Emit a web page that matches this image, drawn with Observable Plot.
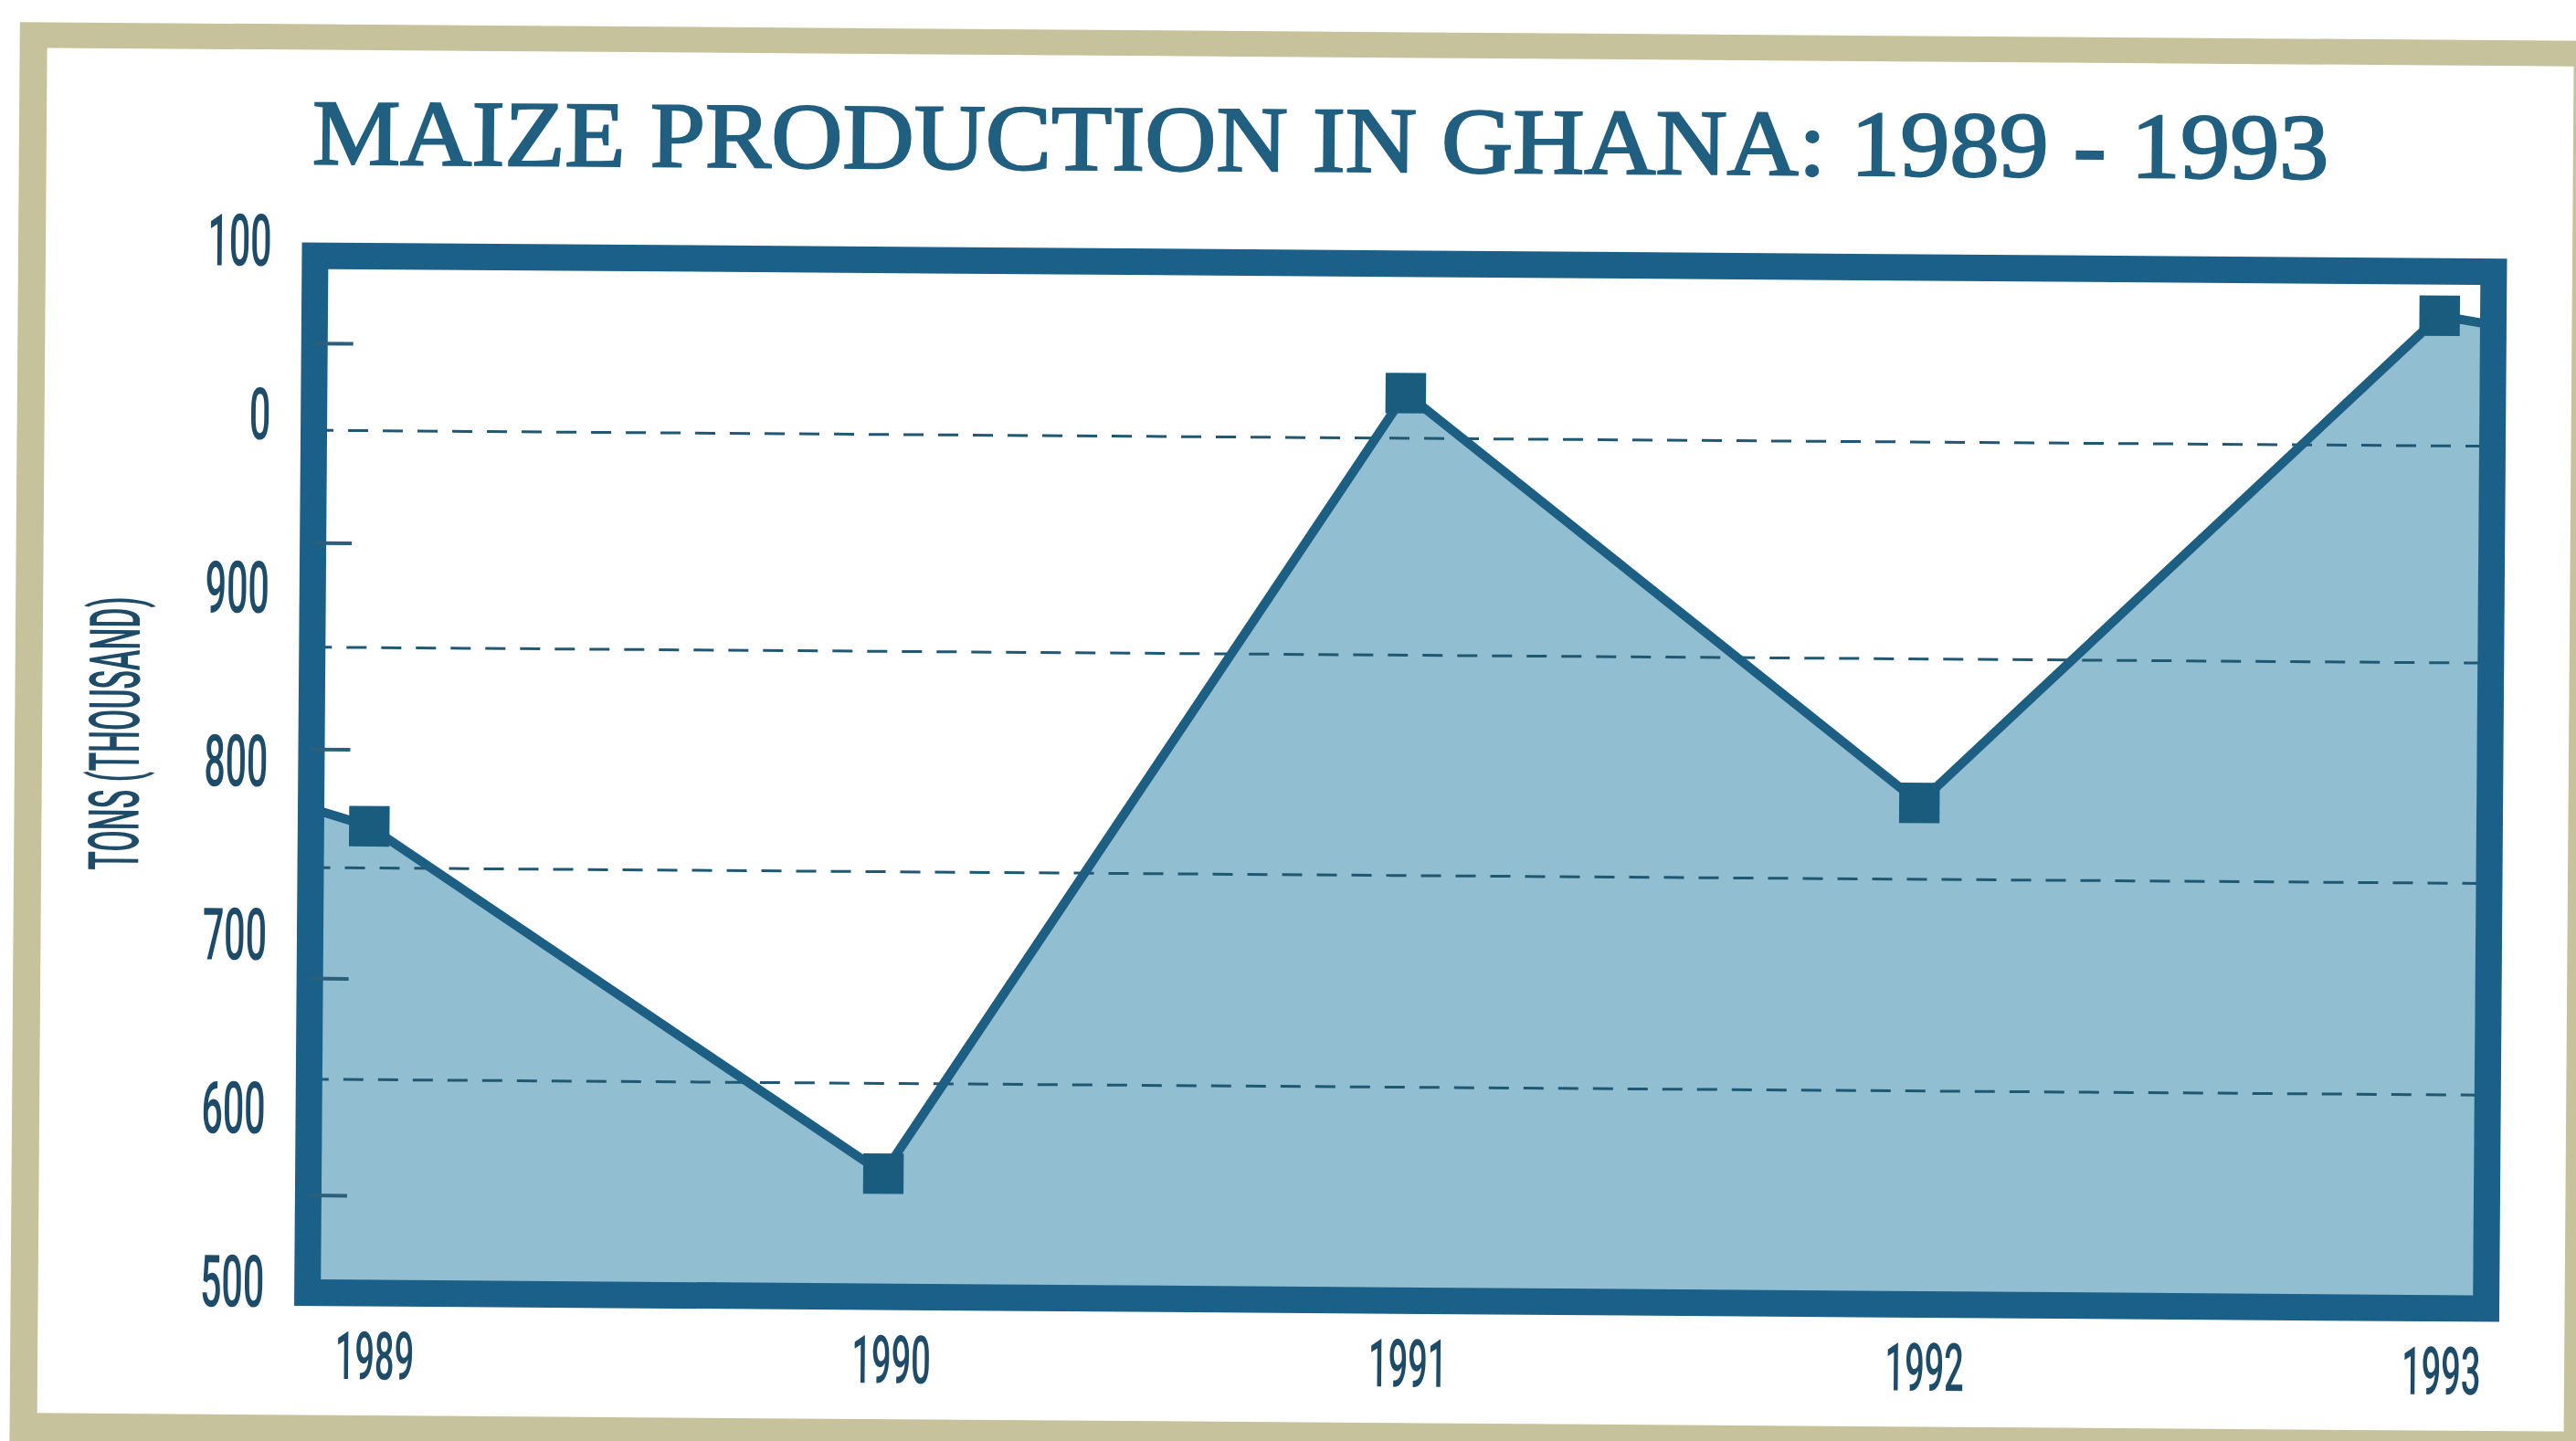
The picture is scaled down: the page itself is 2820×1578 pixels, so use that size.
<!DOCTYPE html>
<html>
<head>
<meta charset="utf-8">
<script src="https://cdn.jsdelivr.net/npm/d3@7"></script>
<script src="https://cdn.jsdelivr.net/npm/@observablehq/plot@0.6"></script>
<style>
  html, body { margin: 0; padding: 0; width: 2820px; height: 1578px; overflow: hidden; background: #ffffff; }
  #page { position: absolute; left: 0; top: 0; width: 2820px; height: 1578px; transform: rotate(0.42deg); transform-origin: 0 0; }
  #khaki { position: absolute; left: 22px; top: 24px; width: 2840px; height: 1600px; background: #c6c29b; }
  #card { position: absolute; left: 52px; top: 52px; width: 2766px; height: 1495px; background: #ffffff; }
  #title { position: absolute; left: 343px; top: 92px; font-family: "Liberation Serif", "DejaVu Serif", serif;
           font-size: 102px; line-height: 102px; font-weight: normal; -webkit-text-stroke: 2.2px #215f80;
           color: #215f80; white-space: nowrap; transform-origin: 0 0; }
  #chart { position: absolute; left: 0; top: 0; }
</style>
</head>
<body>
<div id="page">
  <div id="khaki"></div>
  <div id="card"></div>
  <div id="title">MAIZE PRODUCTION IN GHANA: 1989 - 1993</div>
  <div id="chart"></div>
</div>
<script>
// ---- data ----
const years = [1989, 1990, 1991, 1992, 1993];
const production = [764, 566, 1018, 784, 1067];          // thousand tons (marker centres)
const edgeYears = [1988.91, 1993.08];                    // line continues to the frame edges
const edgeProduction = [772, 1063];
const yTickValues = [500, 600, 700, 800, 900, 1000, 1100];
const yTickLabels = ["500", "600", "700", "800", "900", "0", "100"];  // as printed
const innerTickValues = [551, 676, 808, 927, 1042];      // short inner tick marks
const gridValues = [618, 740, 867, 992];                 // dashed lines
const xDomain = [1988.887, 1993.104];
const yDomain = [495, 1092.6];
const yAxisTitle = ["TONS (THOUSAND)"];

// ---- colours ----
const frameColor = "#1a6088";
const lineColor = "#1c5f82";
const markColor = "#1a5c7e";
const fillColor = "#92bed2";
const textColor = "#1d4b68";

const points = years.map((y, i) => ({year: y, value: production[i]}));
const linePts = [
  {year: edgeYears[0], value: edgeProduction[0]},
  ...points,
  {year: edgeYears[1], value: edgeProduction[1]}
];

const plot = Plot.plot({
  width: 2820,
  height: 1578,
  marginLeft: 346.5,
  marginRight: 88.5,
  marginTop: 277,
  marginBottom: 165.5,
  style: {background: "transparent", fontFamily: "Roboto, 'DejaVu Sans', sans-serif", fontWeight: 500, color: textColor, overflow: "visible"},
  x: {domain: xDomain},
  y: {domain: yDomain},
  marks: [
    Plot.areaY(linePts, {x: "year", y1: yDomain[0], y2: "value", fill: fillColor}),
    Plot.ruleY(gridValues, {stroke: "#1f5873", strokeWidth: 3, strokeDasharray: "22,16"}),
    Plot.line(linePts, {x: "year", y: "value", stroke: lineColor, strokeWidth: 10, strokeLinejoin: "miter"}),
    Plot.dot(points, {x: "year", y: "value", symbol: "square", r: 25, fill: markColor, stroke: "none"}),
    Plot.frame({stroke: frameColor, strokeWidth: 29}),
    Plot.axisY(innerTickValues, {anchor: "left", tickSize: -43, strokeWidth: 4, stroke: "#2b5f7a", fill: "none", label: null}),
    Plot.axisY(yTickValues, {
      anchor: "left", tickSize: 0, tickPadding: 47.5, fontSize: 79, fill: textColor, label: null,
      tickFormat: d => yTickLabels[yTickValues.indexOf(d)]
    }),
    Plot.axisX(years, {
      anchor: "bottom", tickSize: 0, tickPadding: 42.5, fontSize: 73, fill: textColor, label: null, dx: 10,
      tickFormat: d => String(d)
    }),
    Plot.text(yAxisTitle, {
      text: d => d, frameAnchor: "left", rotate: -90, dx: -213.5, dy: -43,
      fontSize: 77, textAnchor: "middle", lineAnchor: "middle", fill: textColor
    })
  ]
});
document.getElementById("chart").appendChild(plot);

// condensed lettering like the original
function condense(selector, s) {
  plot.querySelectorAll(selector).forEach(t => {
    const tr = t.getAttribute("transform") || "";
    t.setAttribute("transform", tr + ` scale(${s},1)`);
  });
}
condense('g[aria-label="y-axis tick label"] text', 0.52);
condense('g[aria-label="x-axis tick label"] text', 0.52);
condense('g[aria-label="text"] text', 0.44);

// fit the title to its printed width
const title = document.getElementById("title");
const w = title.offsetWidth;
title.style.transform = `scaleX(${2208 / w})`;
</script>
</body>
</html>
